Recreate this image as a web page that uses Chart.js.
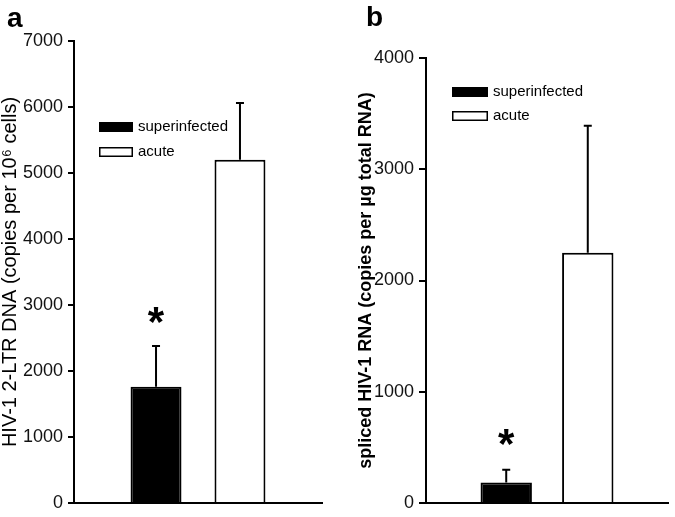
<!DOCTYPE html>
<html><head><meta charset="utf-8">
<script src="https://cdn.jsdelivr.net/npm/chart.js@4.4.0/dist/chart.umd.min.js"></script>
<style>
html,body{margin:0;padding:0;background:#fff;overflow:hidden;width:675px;height:517px}
#wa{position:absolute;left:0;top:0;width:340px;height:517px}
#wb{position:absolute;left:340px;top:0;width:335px;height:517px}
.lbl{position:absolute;font:bold 28px "Liberation Sans",Arial,sans-serif;line-height:28px;color:#000}
</style></head><body>
<div id="wa"><canvas id="ca" width="340" height="517"></canvas></div>
<div id="wb"><canvas id="cb" width="335" height="517"></canvas></div>
<div class="lbl" style="left:7px;top:4px">a</div>
<div class="lbl" style="left:366px;top:3px">b</div>
<script>
// ---- data ----
const categories = [''];
const seriesNames = ['superinfected', 'acute'];
// panel a: HIV-1 2-LTR DNA
const aMeans = [1760, 5200];
const aErrors = [620, 860];
const aStars = [2900, null];
const aTickValues = [0, 1000, 2000, 3000, 4000, 5000, 6000, 7000];
const aTickLabels = ['0', '1000', '2000', '3000', '4000', '5000', '6000', '7000'];
const aTitle = 'HIV-1 2-LTR DNA (copies per 10\u2076 cells)';
// panel b: spliced HIV-1 RNA
const bMeans = [185, 2250];
const bErrors = [115, 1140];
const bStars = [620, null];
const bTickValues = [0, 1000, 2000, 3000, 4000];
const bTickLabels = ['0', '1000', '2000', '3000', '4000'];
const bTitle = 'spliced HIV-1 RNA (copies per \u00b5g total RNA)';

const FONT = '"Liberation Sans", Arial, sans-serif';
const NARROW = '"Liberation Sans Narrow", "Arial Narrow", "Liberation Sans", Arial, sans-serif';

const errorPlugin = {
  id: 'errbars',
  afterDatasetsDraw(chart, args, opts) {
    const ctx = chart.ctx, y = chart.scales.y;
    ctx.save();
    ctx.strokeStyle = '#000';
    ctx.lineWidth = 2;
    chart.data.datasets.forEach((ds, i) => {
      const bar = chart.getDatasetMeta(i).data[0];
      const top = y.getPixelForValue(ds.data[0] + opts.errors[i]);
      ctx.beginPath();
      ctx.moveTo(bar.x, bar.y);
      ctx.lineTo(bar.x, top);
      ctx.moveTo(bar.x - 4, top);
      ctx.lineTo(bar.x + 4, top);
      ctx.stroke();
      if (opts.stars[i] != null) {
        const sy = y.getPixelForValue(opts.stars[i]);
        ctx.fillStyle = '#000';
        ctx.font = 'bold 42px ' + FONT;
        ctx.textAlign = 'center';
        ctx.textBaseline = 'alphabetic';
        ctx.fillText('*', bar.x, sy + 0.57 * 42);
      }
    });
    ctx.restore();
  }
};

const legendPlugin = {
  id: 'boxlegend',
  afterDraw(chart, args, o) {
    const ctx = chart.ctx;
    ctx.save();
    ctx.font = '15px ' + FONT;
    ctx.textBaseline = 'middle';
    ctx.textAlign = 'left';
    chart.data.datasets.forEach((ds, i) => {
      const ry = o.y + i * o.gap;
      ctx.fillStyle = ds.backgroundColor;
      ctx.fillRect(o.x, ry, o.w, o.h);
      ctx.strokeStyle = '#000';
      ctx.lineWidth = 1.5;
      ctx.strokeRect(o.x + 0.75, ry + 0.75, o.w - 1.5, o.h - 1.5);
      ctx.fillStyle = '#000';
      ctx.fillText(ds.label, o.x + o.w + 5, ry + o.h / 2);
    });
    ctx.restore();
  }
};

function makeChart(id, means, errors, stars, tickValues, tickLabels, maxV, title, L) {
  return new Chart(document.getElementById(id), {
    type: 'bar',
    data: {
      labels: categories,
      datasets: [
        { label: seriesNames[0], data: [means[0]], backgroundColor: '#000', borderColor: '#000', borderWidth: 2,
          categoryPercentage: L.cat, barPercentage: L.bar },
        { label: seriesNames[1], data: [means[1]], backgroundColor: '#fff', borderColor: '#000', borderWidth: 2,
          categoryPercentage: L.cat, barPercentage: L.bar }
      ]
    },
    options: {
      responsive: false,
      animation: false,
      devicePixelRatio: 1,
      layout: { padding: L.pad },
      plugins: {
        legend: { display: false },
        tooltip: { enabled: false },
        errbars: { errors: errors, stars: stars },
        boxlegend: L.legend
      },
      scales: {
        x: {
          grid: { display: true, drawOnChartArea: false, drawTicks: false },
          border: { display: true, color: '#000', width: 2 },
          ticks: { display: false }
        },
        y: {
          min: 0, max: maxV,
          afterBuildTicks(s) { s.ticks = tickValues.map(v => ({ value: v })); },
          afterFit(s) { s.width = L.axisW; },
          grid: { display: true, drawOnChartArea: false, drawTicks: true, tickLength: L.tickLen, color: '#000', lineWidth: 2 },
          border: { display: true, color: '#000', width: 2 },
          ticks: { color: '#111', padding: 5, font: { family: NARROW, size: 18, lineHeight: 1 },
                   callback: (v, i) => tickLabels[i] },
          title: { display: true, text: title, color: '#000', padding: { top: L.titlePad, bottom: 0 },
                   font: { family: FONT, size: L.titleSize, weight: L.titleWeight, lineHeight: 1 } }
        }
      }
    },
    plugins: [errorPlugin, legendPlugin]
  });
}

makeChart('ca', aMeans, aErrors, aStars, aTickValues, aTickLabels, 7000, aTitle, {
  pad: { top: 41, bottom: 11, left: 0, right: 18 },
  axisW: 74, tickLen: 6, titlePad: 0.5, titleSize: 20, titleWeight: 'normal',
  cat: 0.677, bar: 0.607,
  legend: { x: 99, y: 122, w: 34, h: 10, gap: 25 }
});
makeChart('cb', bMeans, bErrors, bStars, bTickValues, bTickLabels, 4000, bTitle, {
  pad: { top: 58, bottom: 10, left: 0, right: 7 },
  axisW: 86, tickLen: 7, titlePad: 17.5, titleSize: 18, titleWeight: 'bold',
  cat: 0.674, bar: 0.63,
  legend: { x: 112, y: 87, w: 36, h: 10, gap: 24 }
});
</script>
</body></html>
